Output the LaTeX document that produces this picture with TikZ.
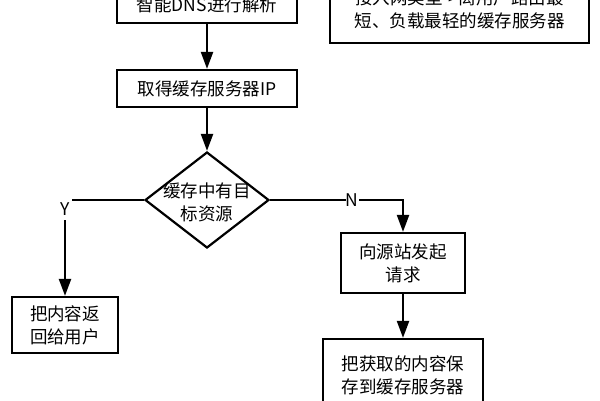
\documentclass[tikz,border=0pt]{standalone}
\usepackage{fontspec}
\setmainfont{Noto Sans CJK SC}
\usetikzlibrary{arrows.meta,shapes.geometric}
\tikzset{
  txt/.style={font=\fontsize{17.5}{23}\selectfont, align=center},
  box/.style={draw, line width=2.2pt, txt, inner sep=0pt},
  dia/.style={draw, diamond, line width=2.2pt, minimum width=124pt, minimum height=96pt, inner sep=0pt},
  conn/.style={line width=2.2pt, -{Triangle[length=17pt,width=12pt]}},
  lab/.style={txt, fill=white, inner sep=0pt, minimum width=13pt, minimum height=22pt}
}
\begin{document}
\begin{tikzpicture}[x=1pt,y=-1pt]
\useasboundingbox (0,0) rectangle (600,400);
\node[box, minimum width=180pt, minimum height=37pt] (dns) at (207,4.5) {智能DNS进行解析};
\node[box, minimum width=259pt, minimum height=68pt] (note) at (459.5,9) {接入网类型->离用户路由最\\短、负载最轻的缓存服务器};
\node[box, minimum width=180pt, minimum height=37pt] (ip) at (207,88.5) {取得缓存服务器IP};
\node[dia] (dec) at (207,200) {};
\node[txt] (dect) at (207,202.5) {缓存中有目\\标资源};
\node[box, minimum width=106pt, minimum height=56pt] (ret) at (65,325) {把内容返\\回给用户};
\node[box, minimum width=124pt, minimum height=60pt] (req) at (403,263) {向源站发起\\请求};
\node[box, minimum width=160pt, minimum height=72pt] (save) at (403,375) {把获取的内容保\\存到缓存服务器};
\draw[conn] (dns.south) -- (ip.north);
\draw[conn] (ip.south) -- (dec.north);
\draw[conn] (dec.west) -| (ret.north);
\draw[conn] (dec.east) -| (req.north);
\draw[conn] (req.south) -- (save.north);
\node[lab] (y) at (65,209) {Y};
\node[lab, minimum height=18pt] (n) at (352,200.5) {N};
\end{tikzpicture}
\end{document}
